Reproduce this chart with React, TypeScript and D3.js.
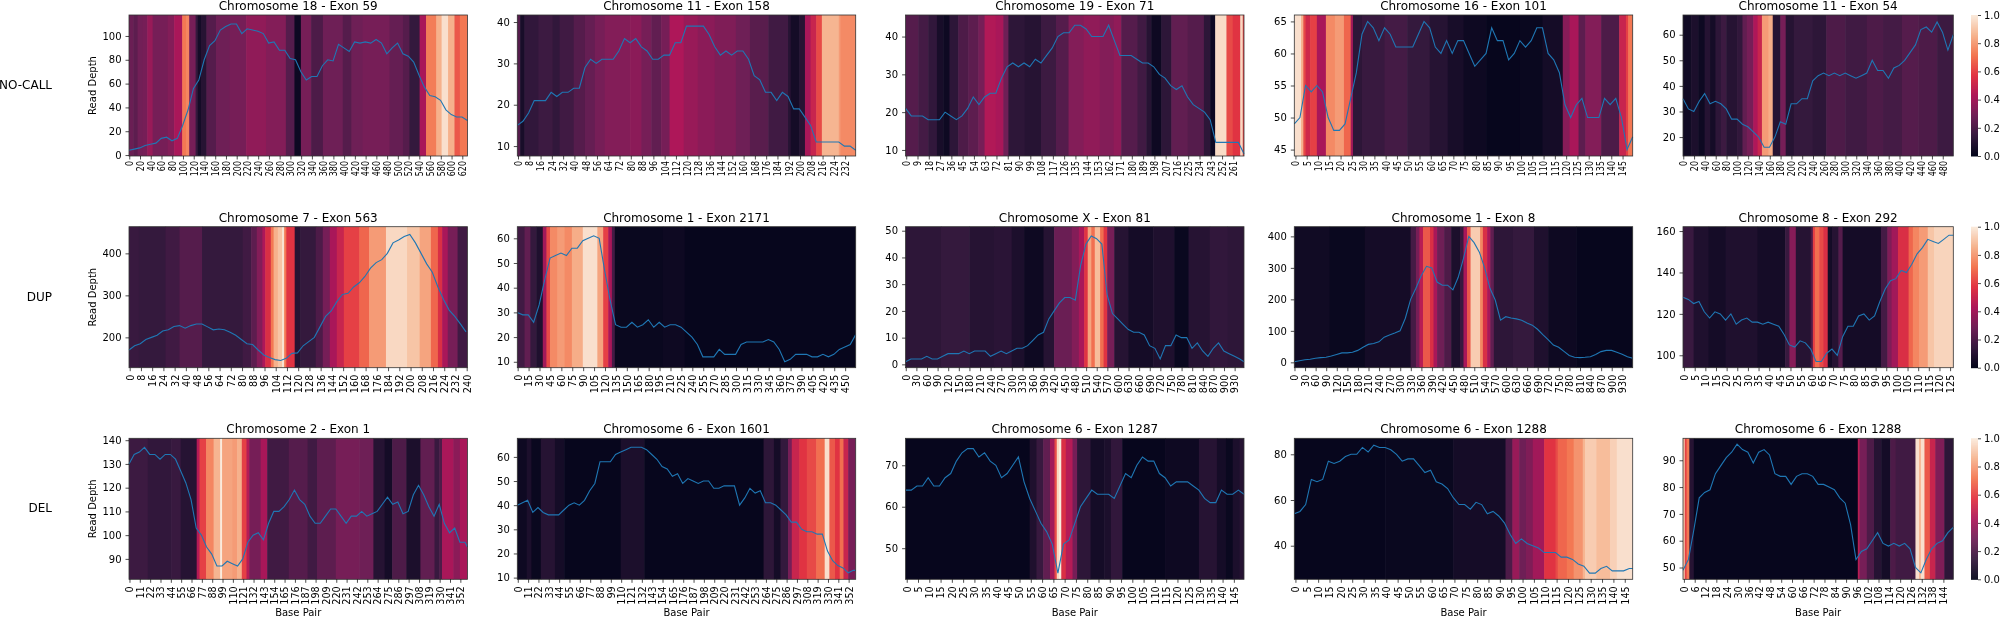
import React, { useEffect, useRef } from 'react';
import * as d3 from 'd3';

type Run = [number, number];

const rowLabels = ['NO-CALL', 'DUP', 'DEL'];

// rocket colormap stops
const rocketStops = ['#03051a', '#35193e', '#701f57', '#ad1759', '#e13342', '#f37651', '#f6b48f', '#faebdd'];

// Read depth, one value every half tick step
const depthA1 = [4, 5, 6, 8, 9, 10, 14, 15, 12, 14, 25, 38, 56, 63, 80, 92, 96, 105, 108, 110, 110, 102, 106, 105, 104, 102, 94, 95, 88, 88, 81, 80, 70, 63, 66, 66, 75, 80, 79, 93, 90, 87, 95, 94, 95, 94, 97, 94, 85, 90, 94, 85, 83, 78, 67, 57, 50, 49, 46, 38, 34, 32, 32, 29];
const depthA2 = [15, 16, 18, 21, 21, 21, 23, 22, 23, 23, 24, 24, 29, 31, 30, 31, 31, 31, 33, 36, 35, 36, 34, 33, 31, 31, 32, 32, 35, 35, 39, 39, 39, 39, 37, 34, 32, 33, 32, 33, 33, 31, 27, 26, 23, 23, 21, 23, 22, 19, 19, 17, 15, 11, 11, 11, 11, 11, 10, 10, 9];
const depthA3 = [21, 19, 19, 19, 18, 18, 18, 20, 19, 18, 19, 21, 24, 22, 24, 25, 25, 29, 32, 33, 32, 33, 32, 34, 33, 35, 37, 40, 41, 41, 43, 43, 42, 40, 40, 40, 43, 39, 35, 35, 35, 34, 33, 33, 32, 30, 29, 27, 26, 27, 24, 22, 21, 20, 18, 12, 12, 12, 12, 12, 9];
const depthA4 = [49, 50, 55, 54, 55, 54, 50, 48, 48, 49, 53, 57, 63, 65, 64, 62, 64, 63, 61, 61, 61, 61, 63, 65, 64, 61, 60, 62, 60, 62, 62, 60, 58, 59, 60, 64, 62, 62, 59, 60, 62, 61, 62, 64, 64, 60, 59, 57, 52, 50, 52, 53, 50, 50, 50, 53, 52, 53, 50, 45, 47];
const depthA5 = [35, 31, 30, 34, 37, 33, 34, 33, 31, 27, 27, 25, 24, 22, 20, 16, 16, 20, 26, 25, 33, 33, 35, 35, 42, 44, 45, 44, 45, 44, 45, 44, 43, 44, 45, 50, 46, 46, 43, 47, 48, 50, 53, 56, 62, 63, 61, 65, 61, 54, 60];
const depthB1 = [170, 180, 185, 195, 200, 205, 215, 218, 226, 228, 222, 228, 232, 232, 225, 218, 220, 218, 212, 205, 195, 185, 183, 170, 158, 152, 147, 145, 150, 162, 163, 180, 190, 200, 225, 250, 263, 285, 302, 305, 320, 330, 345, 365, 378, 385, 400, 425, 432, 440, 445, 425, 400, 375, 355, 320, 290, 265, 250, 232, 213];
const depthB2 = [30, 29, 29, 26, 33, 43, 52, 53, 54, 53, 56, 56, 59, 60, 61, 60, 47, 35, 25, 24, 24, 26, 24, 25, 27, 24, 26, 24, 25, 25, 24, 22, 20, 17, 12, 12, 12, 15, 13, 13, 13, 17, 18, 18, 18, 18, 19, 18, 15, 10, 11, 13, 13, 13, 12, 12, 13, 12, 13, 15, 16, 17, 21];
const depthB3 = [1, 2, 2, 2, 3, 2, 2, 3, 4, 4, 4, 5, 4, 5, 5, 5, 3, 4, 5, 4, 5, 6, 6, 7, 9, 11, 12, 17, 20, 23, 25, 25, 24, 37, 45, 48, 47, 45, 26, 19, 17, 15, 13, 12, 12, 11, 7, 6, 2, 7, 7, 11, 10, 10, 6, 8, 5, 3, 6, 8, 5, 4, 3, 2, 1];
const depthB4 = [2, 5, 8, 10, 13, 15, 16, 20, 25, 30, 30, 32, 38, 48, 57, 60, 65, 80, 87, 93, 100, 140, 200, 235, 275, 305, 300, 255, 245, 245, 230, 270, 330, 400, 380, 350, 300, 235, 198, 134, 145, 141, 138, 134, 125, 118, 105, 88, 72, 55, 48, 35, 22, 16, 15, 16, 18, 25, 34, 38, 38, 32, 26, 18, 13];
const depthB5 = [128, 127, 125, 126, 121, 118, 121, 120, 117, 120, 115, 117, 118, 116, 116, 115, 116, 115, 114, 110, 105, 104, 107, 106, 103, 97, 97, 101, 103, 100, 109, 114, 114, 119, 120, 117, 119, 126, 132, 136, 137, 141, 140, 144, 149, 152, 156, 155, 154, 156, 158, 158];
const depthC1 = [130, 134, 135, 137, 134, 134, 132, 134, 134, 132, 127, 122, 115, 103, 100, 95, 92, 87, 87, 89, 88, 87, 90, 97, 100, 101, 98, 105, 110, 110, 112, 115, 119, 115, 113, 108, 105, 105, 108, 111, 111, 108, 105, 108, 108, 110, 108, 109, 110, 113, 116, 113, 114, 109, 110, 117, 121, 117, 112, 108, 113, 105, 101, 103, 97, 97, 95];
const depthC2 = [40, 41, 42, 37, 39, 37, 36, 36, 36, 38, 40, 41, 40, 42, 46, 49, 58, 58, 58, 61, 62, 63, 64, 64, 64, 63, 61, 59, 56, 55, 52, 53, 49, 51, 50, 49, 50, 50, 47, 47, 48, 48, 48, 40, 43, 47, 45, 46, 41, 41, 40, 38, 36, 33, 33, 30, 29, 29, 28, 28, 21, 17, 15, 14, 12, 13, 13];
const depthC3 = [64, 64, 65, 65, 67, 65, 65, 67, 68, 71, 73, 74, 74, 72, 73, 71, 70, 67, 68, 70, 72, 66, 62, 59, 56, 54, 51, 44, 51, 52, 56, 60, 62, 64, 63, 63, 63, 62, 65, 68, 67, 70, 72, 71, 71, 68, 67, 65, 66, 66, 66, 65, 64, 62, 61, 61, 64, 63, 63, 64, 63];
const depthC4 = [54, 55, 58, 69, 68, 69, 77, 76, 77, 79, 80, 80, 83, 81, 84, 83, 83, 82, 80, 77, 78, 78, 75, 72, 73, 68, 67, 65, 61, 58, 58, 56, 59, 58, 54, 55, 53, 50, 45, 41, 43, 41, 40, 39, 37, 37, 37, 35, 35, 34, 32, 31, 28, 28, 30, 31, 29, 29, 29, 30, 30];
const depthC5 = [49, 53, 64, 76, 78, 79, 85, 88, 91, 93, 96, 94, 93, 89, 93, 94, 92, 85, 84, 84, 81, 84, 85, 85, 84, 81, 81, 80, 79, 76, 74, 66, 53, 56, 57, 60, 63, 59, 58, 59, 58, 59, 57, 50, 48, 53, 57, 59, 60, 63, 65];

// Heat runs: [first base pair, normalised value]
const heatA1: Run[] = [[0, .27], [8, .24], [16, .29], [25, .3], [34, .38], [44, .3], [72, .33], [84, .42], [99, .72], [106, .75], [112, .3], [124, .14], [128, .05], [134, .1], [144, .22], [162, .28], [187, .3], [218, .36], [255, .33], [292, .22], [308, .03], [320, .3], [339, .2], [361, .28], [398, .22], [414, .28], [435, .3], [485, .26], [510, .22], [522, .14], [541, .42], [553, .73], [572, .85], [582, .97], [594, .85], [606, .65], [616, .72]];
const heatA2: Run[] = [[0, .22], [2, .06], [5, .13], [15, .16], [25, .13], [30, .17], [40, .22], [48, .26], [55, .3], [62, .33], [80, .35], [88, .3], [95, .25], [102, .3], [108, .43], [118, .38], [128, .35], [140, .32], [155, .28], [165, .23], [178, .17], [192, .1], [194, .05], [200, .1], [204, .42], [208, .5], [212, .62], [216, .86], [228, .8], [229, .76]];
const heatA3: Run[] = [[0, .22], [10, .18], [18, .13], [25, .06], [30, .03], [35, .12], [42, .2], [50, .24], [58, .3], [63, .44], [72, .42], [78, .28], [82, .12], [95, .1], [108, .16], [120, .22], [130, .33], [142, .36], [155, .33], [166, .36], [172, .22], [185, .17], [192, .1], [196, .03], [204, .12], [212, .25], [225, .22], [238, .12], [243, .03], [247, .96], [256, .62], [261, .57], [267, .95], [269, .6]];
const heatA4: Run[] = [[0, .97], [3, .85], [4, .62], [5, .52], [7, .6], [10, .42], [14, .76], [18, .8], [22, .68], [25, .4], [26, .12], [30, .15], [40, .18], [50, .14], [60, .1], [68, .06], [75, .03], [85, .01], [100, .02], [110, .05], [119, .34], [122, .42], [126, .24], [129, .33], [136, .2], [144, .5], [147, .6], [148, .72]];
const heatA5: Run[] = [[0, .04], [15, .07], [28, .03], [40, .1], [50, .05], [60, .12], [70, .16], [80, .1], [100, .13], [110, .25], [118, .3], [130, .43], [138, .5], [146, .8], [158, .84], [166, .1], [180, .3], [190, .1], [205, .14], [240, .12], [265, .2], [300, .17], [340, .2], [370, .18], [405, .22], [435, .2], [470, .16]];
const heatB1: Run[] = [[0, .15], [7, .14], [26, .17], [36, .22], [52, .14], [81, .17], [87, .24], [91, .33], [95, .43], [97, .55], [101, .72], [103, .85], [106, .9], [109, .98], [110.5, .72], [112, .57], [118, .1], [122, .14], [133, .2], [138, .3], [143, .42], [148, .5], [153, .6], [164, .68], [171, .8], [183, .95], [198, .9], [207, .82], [215, .68], [220, .55], [223, .42], [227, .3], [234, .17]];
const heatB2: Run[] = [[0, .17], [10, .25], [18, .14], [26, .08], [35, .4], [40, .62], [45, .76], [55, .8], [65, .76], [75, .84], [90, .97], [110, .82], [118, .6], [125, .42], [130, .18], [134, .02], [200, .03], [230, .01]];
const heatB3: Run[] = [[0, .12], [100, .14], [180, .1], [250, .11], [300, .07], [335, .03], [390, .1], [420, .27], [470, .33], [490, .42], [505, .57], [515, .82], [525, .7], [535, .88], [550, .7], [560, .57], [570, .3], [590, .1], [630, .05], [700, .08], [760, .02], [800, .1], [860, .13], [910, .12]];
const heatB4: Run[] = [[0, .04], [100, .02], [200, .05], [330, .18], [345, .3], [355, .46], [365, .65], [385, .55], [395, .42], [405, .28], [425, .2], [445, .07], [470, .15], [480, .42], [490, .65], [500, .92], [527, .75], [535, .55], [547, .42], [556, .25], [566, .12], [620, .14], [680, .08], [720, .03], [800, .01]];
const heatB5: Run[] = [[0, .15], [5, .08], [12, .05], [20, .08], [35, .05], [48, .15], [50, .34], [53, .1], [60, .2], [61, .6], [62, .7], [64, .62], [66, .55], [68, .05], [70, .1], [73, .22], [75, .05], [93, .18], [96, .32], [98, .4], [101, .55], [106, .68], [108, .75], [111, .8], [115, .9], [118, .94]];
const heatC1: Run[] = [[0, .16], [20, .13], [45, .15], [55, .1], [72, .45], [75, .6], [82, .75], [90, .86], [97, 1], [99, .82], [110, .8], [115, .85], [120, .6], [125, .45], [128, .3], [140, .42], [147, .17], [170, .22], [190, .17], [200, .24], [220, .3], [245, .28], [260, .1], [272, .05], [280, .2], [295, .07], [310, .25], [325, .15], [330, .2], [333, .42], [345, .35], [352, .42]];
const heatC2: Run[] = [[0, .03], [10, .07], [15, .02], [25, .1], [40, .05], [50, .01], [110, .07], [135, .01], [262, .12], [273, .05], [280, .14], [288, .3], [292, .5], [300, .57], [308, .62], [318, .7], [327, .97], [332, .65], [338, .57], [343, .7], [347, .5], [352, .3]];
const heatC3: Run[] = [[0, .01], [55, .08], [58, .15], [61, .25], [64, .4], [66, .62], [67, .95], [68, 1], [69, .55], [71, .45], [74, .3], [76, .12], [82, .05], [88, .07], [91, .13], [96, .01], [115, .03], [130, .1], [138, .05], [142, .02], [145, .07], [148, .1]];
const heatC4: Run[] = [[0, .01], [40, .02], [70, .05], [93, .2], [96, .38], [99, .28], [102, .32], [105, .4], [110, .57], [115, .62], [116, .68], [120, .72], [123, .78], [127, .86], [128, .92], [133, .88], [139, .93], [142, .97]];
const heatC5: Run[] = [[0, .9], [1, .6], [2, .72], [3.5, .1], [6, .01], [97, .46], [98, .3], [102, .2], [106, .1], [110, .05], [115, .2], [118, .17], [129, .97], [131, .86], [132, .97], [134, .65], [137, .5], [140, .32], [145, .12]];

const titles = [
  'Chromosome 18 - Exon 59', 'Chromosome 11 - Exon 158', 'Chromosome 19 - Exon 71', 'Chromosome 16 - Exon 101', 'Chromosome 11 - Exon 54',
  'Chromosome 7 - Exon 563', 'Chromosome 1 - Exon 2171', 'Chromosome X - Exon 81', 'Chromosome 1 - Exon 8', 'Chromosome 8 - Exon 292',
  'Chromosome 2 - Exon 1', 'Chromosome 6 - Exon 1601', 'Chromosome 6 - Exon 1287', 'Chromosome 6 - Exon 1288', 'Chromosome 6 - Exon 1288',
];
const exonLengths = [630, 240, 270, 150, 500, 241, 465, 957, 960, 127, 360, 360, 150, 149, 150];
const tickSteps = [20, 8, 9, 5, 20, 8, 15, 30, 30, 5, 11, 11, 5, 5, 6];
const yLimits = [[-0.8, 117.6], [7.6, 41.7], [8.4, 45.7], [44, 66], [12.6, 67.7], [127.8, 463.5], [7.6, 64.7], [-1.25, 51.5], [-17, 430.7], [94, 162.1], [81.4, 140.8], [9.3, 67.7], [42.5, 76.5], [25.3, 87], [45.6, 98.2]];
const yTickSets = [
  [0, 20, 40, 60, 80, 100], [10, 20, 30, 40], [10, 20, 30, 40], [45, 50, 55, 60, 65], [20, 30, 40, 50, 60],
  [200, 300, 400], [10, 20, 30, 40, 50, 60], [0, 10, 20, 30, 40, 50], [0, 100, 200, 300, 400], [100, 120, 140, 160],
  [90, 100, 110, 120, 130, 140], [10, 20, 30, 40, 50, 60], [50, 60, 70], [40, 60, 80], [50, 60, 70, 80, 90],
];
const depths = [depthA1, depthA2, depthA3, depthA4, depthA5, depthB1, depthB2, depthB3, depthB4, depthB5, depthC1, depthC2, depthC3, depthC4, depthC5];
const heats = [heatA1, heatA2, heatA3, heatA4, heatA5, heatB1, heatB2, heatB3, heatB4, heatB5, heatC1, heatC2, heatC3, heatC4, heatC5];

const width = 2000;
const height = 619;
const rowTops = [15, 226.7, 438.3];
const rowLabelY = [85, 297, 508];
const colLefts = [129, 517.3, 905.6, 1294.3, 1683];
const plotH = 141;
const fullW = 338.4;
const lastW = 270.3;
const font = '"DejaVu Sans", sans-serif';

const rocket = d3.scaleLinear<string>()
  .domain(rocketStops.map((_, i) => i / (rocketStops.length - 1)))
  .range(rocketStops)
  .interpolate(d3.interpolateRgb);

const App: React.FC = () => {
  const svgRef = useRef<SVGSVGElement | null>(null);

  useEffect(() => {
    const svg = d3.select(svgRef.current);
    svg.selectAll('*').remove();
    svg.style('font-family', font);

    rowLabels.forEach((label, r) => {
      svg.append('text')
        .attr('x', 52)
        .attr('y', rowLabelY[r])
        .attr('text-anchor', 'end')
        .attr('dominant-baseline', 'middle')
        .attr('font-size', 12)
        .text(label);
    });

    titles.forEach((title, idx) => {
      const r = Math.floor(idx / 5);
      const c = idx % 5;
      const w = c === 4 ? lastW : fullW;
      const n = exonLengths[idx];
      const step = tickSteps[idx];
      const g = svg.append('g').attr('transform', `translate(${colLefts[c]},${rowTops[r]})`);

      const x = d3.scaleLinear().domain([0, n]).range([0, w]).clamp(true);
      const y = d3.scaleLinear().domain(yLimits[idx]).range([plotH, 0]);

      // Heat cells
      const heat = heats[idx];
      g.append('g')
        .selectAll('rect')
        .data(heat)
        .enter()
        .append('rect')
        .attr('x', d => x(d[0]))
        .attr('y', 0)
        .attr('width', (d, i) => (i + 1 < heat.length ? x(heat[i + 1][0]) - x(d[0]) + 0.6 : w - x(d[0])))
        .attr('height', plotH)
        .attr('fill', d => rocket(d[1]));

      // Read depth line
      const line = d3.line<number>()
        .x((d, i) => x(i * step / 2))
        .y(d => y(d));
      g.append('path')
        .attr('d', line(depths[idx]))
        .attr('fill', 'none')
        .attr('stroke', '#1f77b4')
        .attr('stroke-width', 1.1);

      g.append('rect')
        .attr('width', w)
        .attr('height', plotH)
        .attr('fill', 'none')
        .attr('stroke', '#333')
        .attr('stroke-width', 0.8);

      // X labels.
      const xAxis = g.append('g')
        .attr('transform', `translate(0,${plotH})`)
        .call(d3.axisBottom(x)
          .tickValues(d3.range(0, n, step).map(d => d + 0.5))
          .tickFormat(d => String(+d - 0.5))
          .tickSize(3.5));
      xAxis.select('.domain').remove();
      xAxis.selectAll('line').attr('stroke-width', 0.7);
      xAxis.selectAll('text')
        .attr('font-size', 10.5)
        .attr('font-family', font)
        .attr('text-anchor', 'end')
        .attr('dy', '0.32em')
        .attr('x', 0)
        .attr('y', 0)
        .attr('transform', `translate(0,${r === 0 ? 5 : 7}) rotate(-90) scale(${r === 0 ? 0.76 : 0.92},1)`);

      // Y labels.
      const yAxis = g.append('g')
        .call(d3.axisLeft(y)
          .tickValues(yTickSets[idx])
          .tickFormat(d3.format('d'))
          .tickSize(3.5)
          .tickPadding(4));
      yAxis.select('.domain').remove();
      yAxis.selectAll('line').attr('stroke-width', 0.7);
      yAxis.selectAll('text').attr('font-size', 10).attr('font-family', font);

      // Title
      g.append('text')
        .attr('x', w / 2)
        .attr('y', -5)
        .attr('text-anchor', 'middle')
        .attr('font-size', 12)
        .text(title);

      if (c === 0) {
        g.append('text')
          .attr('text-anchor', 'middle')
          .attr('x', -plotH / 2)
          .attr('y', -33)
          .attr('transform', 'rotate(-90)')
          .attr('font-size', 10)
          .text('Read Depth');
      }

      if (r === 2) {
        g.append('text')
          .attr('text-anchor', 'middle')
          .attr('x', w / 2)
          .attr('y', 178)
          .attr('font-size', 10)
          .text('Base Pair');
      }

      // Colour bar
      if (c === 4) {
        const bar = svg.append('g').attr('transform', `translate(1971,${rowTops[r]})`);
        const v = d3.scaleLinear().domain([0, 1]).range([plotH, 0]);
        bar.append('g')
          .selectAll('rect')
          .data(d3.range(0, 1, 1 / 141))
          .enter()
          .append('rect')
          .attr('x', 0)
          .attr('y', d => v(d) - plotH / 141)
          .attr('width', 7)
          .attr('height', plotH / 141 + 0.5)
          .attr('fill', d => rocket(d));
        const barAxis = bar.append('g')
          .attr('transform', 'translate(7,0)')
          .call(d3.axisRight(v).tickValues([0, 0.2, 0.4, 0.6, 0.8, 1]).tickFormat(d3.format('.1f')).tickSize(3));
        barAxis.select('.domain').remove();
        barAxis.selectAll('line').attr('stroke-width', 0.7);
        barAxis.selectAll('text').attr('font-size', 10).attr('font-family', font);
      }
    });
  }, []);

  return (
    <svg
      ref={svgRef}
      width={width}
      height={height}
      style={{ position: 'absolute', left: 0, top: 0, background: '#fff', filter: 'blur(0.35px)' }}
    ></svg>
  );
};

export default App;
